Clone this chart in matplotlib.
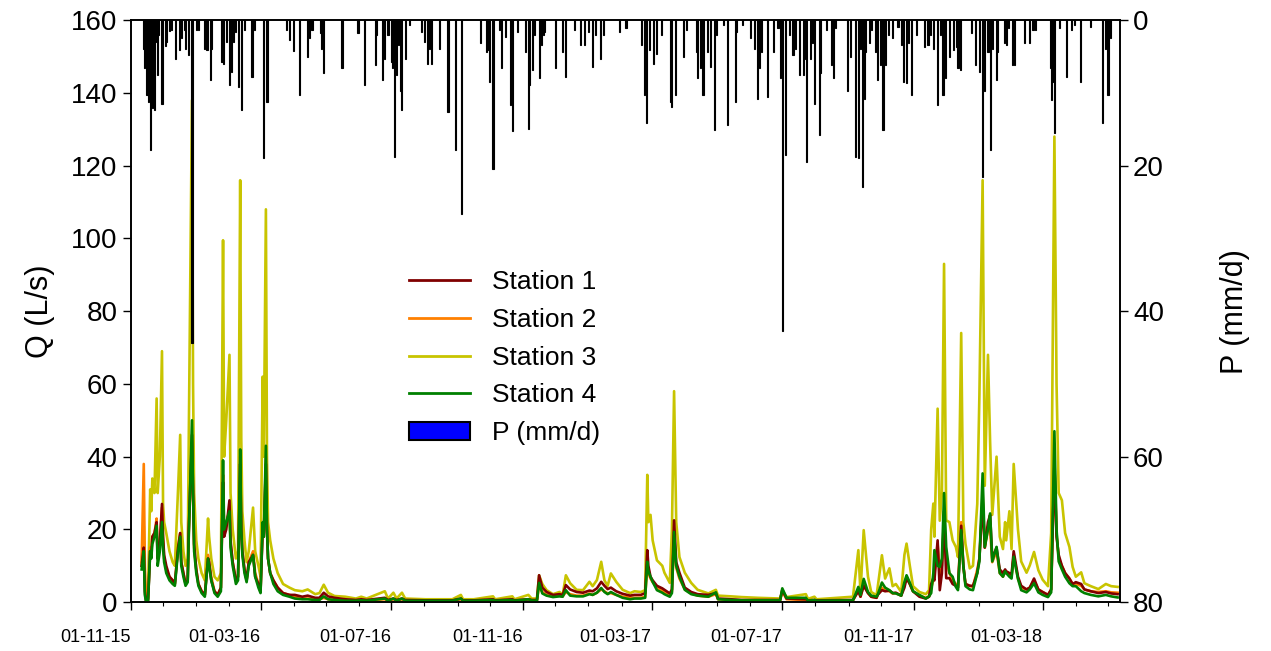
import matplotlib
matplotlib.use('Agg')
import matplotlib.pyplot as plt
import matplotlib.dates as mdates
from matplotlib.lines import Line2D
from matplotlib.patches import Patch
import pandas as pd

plt.rcParams['font.family'] = ['Liberation Sans', 'DejaVu Sans']

start = pd.Timestamp('2015-11-01')

# days after 01-11-15 and discharge (L/s) at each station
day = [10, 12, 13, 14, 16, 18, 19, 20, 22, 24, 25, 27, 29, 30, 31, 33, 36, 39, 41, 44,
       46, 47, 49, 51, 53, 54, 57, 58, 59, 61, 63, 66, 69, 72, 73, 75, 78, 81, 84, 86,
       87, 89, 92, 93, 95, 98, 100, 102, 103, 104, 106, 108, 110, 114, 116, 119, 121, 123, 124, 126,
       127, 128, 130, 133, 137, 142, 148, 153,
       160, 165, 172, 176, 180, 184, 190, 200, 210, 215, 220, 237, 240, 245, 248, 253, 256, 275, 300, 308,
       310,
       320, 338, 340, 356, 358, 371, 374, 379, 381, 384, 388, 394, 400, 403, 406, 410, 416, 422, 428, 431,
       435, 439, 442, 445, 448, 453, 459, 466, 470, 476, 480, 482, 483, 485, 487, 491, 496, 498, 503, 505,
       507, 509, 512, 517, 523, 529, 539, 546, 548, 560, 570, 585, 606, 608, 612, 630, 632, 638, 640, 674,
       679, 681, 684, 688, 691, 696, 697, 701, 704, 708, 711, 714, 719, 722, 724, 727, 730, 736, 742, 745,
       747, 749, 750, 753, 755, 757, 759, 761, 764, 767, 770, 772, 775, 777, 779, 783, 786, 790, 792, 795,
       797, 800, 802, 804, 808, 811, 814, 816, 817, 820, 822, 824, 828, 831, 836, 839, 843, 847, 851, 856,
       859, 862, 864, 866, 869, 872, 876, 879, 882, 887, 890, 896, 903, 910, 915, 921]

q1 = [10, 15, 3, 0.5, 0.5, 14, 13, 18, 19, 22, 12, 16, 27, 18, 13, 10, 7, 6, 5, 15,
      19, 11, 8, 5, 6, 20, 46, 30, 16, 9, 5, 3, 2, 12, 11, 6, 3, 2, 4, 33,
      18, 20, 28, 17, 11, 6, 7, 38, 20, 14, 9, 6, 11, 13, 7, 5, 3, 20, 18, 38,
      20, 12, 8, 6, 4, 2.5, 2, 2,
      1.5, 1.8, 1.2, 1.2, 2.6, 1.6, 1.2, 0.8, 0.6, 0.8, 0.6, 1.2, 0.6, 1.0, 0.6, 1.0, 0.6, 0.5, 0.5, 1.0,
      0.5,
      0.5, 0.8, 0.5, 0.8, 0.5, 0.8, 0.6, 0.6, 7.4, 4.0, 2.8, 2.0, 2.2, 2.0, 4.7, 3.5, 2.8, 2.6, 3.2, 3.0,
      3.8, 5.6, 4.5, 3.6, 4.0, 3.0, 2.3, 1.8, 2.0, 2.0, 2.5, 14.3, 10, 7.0, 6, 4.5, 3.8, 3.4, 2.4, 3.5,
      22.5, 11, 8.1, 4.0, 2.8, 2.2, 2.0, 2.5, 1.0, 0.8, 0.6, 0.6, 0.6, 3.4, 1.0, 0.8, 0.5, 0.6, 0.5, 0.6,
      3.0, 1.5, 4.5, 2.5, 1.5, 1.2, 2.0, 3.3, 3.0, 3.2, 2.5, 2.6, 1.8, 4.0, 6.6, 5.0, 3.0, 1.5, 1.0, 1.5,
      5.0, 6.6, 6.0, 17, 3.3, 8, 25, 6.6, 6.6, 5.0, 4.5, 4.0, 21, 10, 5, 4.5, 4.5, 8, 12, 28,
      15, 22, 24, 12, 15, 9, 8, 9, 8.5, 8, 7.5, 14, 7, 4.5, 3.5, 4, 6.5, 3.5, 2.8, 2.0,
      3.5, 38, 18, 13, 10, 8, 6.5, 5, 5.5, 5, 3.5, 3.0, 2.5, 2.8, 2.4, 2.2]

q2 = [11, 38, 10, 2, 1, 15, 14, 18, 19, 23, 12, 16, 26, 17, 12, 9, 7, 6, 5, 15,
      19, 11, 8, 5, 6, 19, 44, 30, 15, 9, 5, 3, 2, 13, 11, 7, 3, 2, 4, 35,
      19, 21, 26, 16, 11, 6, 7, 40, 20, 14, 9, 6, 11, 14, 8, 5, 3, 21, 18, 40,
      20, 12, 8, 6, 4, 2.5, 2, 1.5,
      1.0, 1.0, 0.8, 0.8, 1.2, 0.8, 0.6, 0.5, 0.4, 0.5, 0.4, 0.8, 0.4, 0.8, 0.4, 0.8, 0.4, 0.4, 0.4, 0.8,
      0.4,
      0.4, 0.6, 0.4, 0.6, 0.4, 0.8, 0.5, 0.5, 4.5, 2.8, 2.0, 1.6, 1.8, 1.6, 2.8, 2.2, 1.8, 1.8, 2.4, 2.0,
      2.6, 3.5, 3.0, 2.4, 2.5, 2.0, 1.5, 1.2, 1.2, 1.2, 1.5, 10, 8, 6.5, 5.5, 4, 3.2, 2.8, 2, 3,
      18, 9.5, 6.5, 3.5, 2.4, 1.8, 1.5, 2.2, 0.8, 0.6, 0.5, 0.5, 0.5, 3.0, 0.8, 0.6, 0.4, 0.5, 0.4, 0.5,
      3.5, 1.5, 5.0, 2.5, 1.5, 1.2, 2.0, 4.0, 3.2, 3.0, 2.4, 2.5, 1.8, 5.0, 7.0, 5.0, 3.0, 1.8, 1.2, 1.6,
      4.0, 6.0, 8.0, 16, 8, 10, 22, 12, 8, 6, 5, 4.0, 22, 10, 5, 4.5, 4.2, 9, 12, 30,
      15, 20, 20, 11, 14, 8, 7, 8.5, 8, 7.5, 7, 13, 6.5, 4, 3.5, 4, 6, 3.5, 2.8, 2.0,
      3.5, 40, 19, 12, 10, 8, 6.5, 5, 5, 4.5, 3.5, 3.0, 2.8, 3.0, 2.7, 2.6]

q3 = [10, 21, 6, 3, 3, 31, 25, 34, 30, 56, 30, 40, 69, 27, 22, 19, 14, 11, 10, 31,
      46, 22, 14, 10, 12, 45, 138, 60, 30, 17, 12, 8, 6, 23, 18, 12, 7, 6, 8, 99.5,
      40, 50, 68, 30, 20, 12, 14, 116, 45, 25, 17, 11, 14, 26, 14, 10, 7, 62, 40, 108,
      40, 22, 17, 12, 8, 5, 4, 3.3,
      3.0, 3.5, 2.2, 2.5, 4.8, 2.6, 1.7, 1.5, 1.0, 1.5, 1.0, 3.0, 1.0, 2.6, 1.0, 2.6, 1.0, 0.8, 0.8, 2.0,
      0.8,
      0.8, 1.6, 0.8, 1.6, 0.8, 2.0, 1.0, 1.0, 7.4, 5.0, 3.3, 2.2, 2.8, 2.0, 7.4, 5.2, 3.4, 3.3, 5.6, 4.4,
      6.1, 11.1, 6.0, 4.5, 7.9, 5.6, 3.4, 2.5, 3.0, 2.8, 3.3, 35, 22, 24, 17, 11.5, 10, 8.1, 5.3, 20,
      58, 22, 12.4, 8.1, 5.3, 3.4, 2.4, 3.4, 1.8, 1.6, 1.4, 1.2, 1.0, 3.1, 1.4, 2.2, 0.9, 1.5, 0.8, 1.5,
      14.3, 2.5, 19.8, 7, 2.8, 1.9, 4.0, 12.9, 6.5, 9.3, 4.4, 5.0, 2.8, 13, 16.1, 10.1, 4.4, 2.8, 2.2, 3.3,
      20, 27.1, 18, 53.2, 22.4, 30, 93, 22.5, 22, 17, 15.2, 12.4, 74, 22, 16, 9.3, 10, 27, 57, 116,
      32, 68, 44, 24, 40, 18, 14.6, 22, 17, 25, 14.6, 38, 20, 11.2, 8.1, 10.1, 13.8, 8.8, 6.2, 4.4,
      19, 128, 60, 30, 28, 19, 15.2, 9.7, 7, 8.2, 5.2, 4.4, 3.6, 5, 4.4, 4.2]

q4 = [9, 14, 2, 0.3, 0.3, 14, 12, 16, 18, 21, 10, 14, 22, 15, 11, 8, 6, 5, 4.5, 14,
      18, 10, 7, 4.5, 5.5, 18, 50, 30, 14, 8, 4.5, 2.5, 1.5, 12, 10, 6, 2.5, 1.5, 3, 39,
      20, 22, 25, 15, 10, 5, 6, 42, 20, 13, 8, 5.5, 10, 13, 7, 4, 2.5, 22, 18, 43,
      20, 12, 8, 5, 3, 2, 1.5, 1.0,
      0.8, 0.8, 0.6, 0.6, 1.6, 0.8, 0.6, 0.4, 0.4, 0.5, 0.4, 1.0, 0.4, 1.0, 0.4, 1.0, 0.4, 0.4, 0.4, 1.0,
      0.4,
      0.4, 0.6, 0.4, 0.6, 0.4, 0.8, 0.5, 0.4, 5.3, 2.4, 1.8, 1.4, 1.6, 1.5, 3.3, 1.8, 1.6, 1.6, 2.2, 2.0,
      2.6, 3.9, 2.8, 2.2, 2.8, 2.0, 1.2, 0.8, 1.0, 1.0, 1.2, 11.1, 8.5, 7.0, 5.6, 3.3, 2.6, 2.2, 1.5, 2.5,
      19.3, 10, 7.0, 3.4, 2.2, 1.8, 1.5, 2.7, 0.8, 0.6, 0.5, 0.5, 0.5, 3.8, 1.2, 1.2, 0.4, 0.6, 0.4, 0.5,
      4.2, 2.0, 6.4, 2.8, 1.8, 1.5, 2.0, 5.4, 4.0, 3.3, 2.5, 2.4, 1.8, 5.5, 7.4, 5.4, 3.0, 2.0, 1.0, 1.6,
      2.5, 8, 14.3, 10, 9.7, 12, 30, 15.2, 8.0, 7.0, 4.2, 3.3, 19.8, 10, 4.4, 3.5, 3.3, 8, 11.2, 35.4,
      15.2, 20, 24.4, 11.2, 15.2, 8, 7, 8.5, 8, 7, 6.5, 12.5, 6.4, 3.3, 2.7, 3.5, 5.2, 2.7, 2.0, 1.4,
      2.7, 47, 20, 11.2, 9, 7, 5.2, 4.4, 4.4, 3, 2.5, 2.0, 1.6, 2.0, 1.6, 1.3]

# daily precipitation (mm/d)
p_day = [12, 13, 15, 16, 17, 18, 19, 20, 21, 22, 23, 25, 26, 29, 32, 33, 36, 38, 42, 45,
         47, 50, 51, 54, 57, 61, 63, 69, 71, 74, 75, 85, 86, 89, 92, 94, 96, 98, 100, 103,
         106, 113, 115, 124, 127, 145, 148, 152, 157,
         165, 167, 169, 177, 178, 180, 197, 212, 218, 228, 229, 235, 237, 240, 243, 244, 246, 248, 250, 252,
         253, 256, 260, 271, 274, 277, 279, 281, 288, 296, 303, 309,
         326, 332, 333, 335, 338, 344, 346, 350, 354, 356, 361, 368, 371, 372, 375, 377, 381, 383, 385, 386,
         396, 403, 406, 414, 420, 423, 427, 431, 434, 438, 441, 456, 462,
         463, 477, 479, 481, 484, 488, 491, 495, 504, 505, 508, 516, 519, 528, 529, 532, 534, 538, 541, 545,
         547, 553, 557, 564, 565, 571, 578, 582, 585, 587, 589, 594, 600, 604, 606, 608, 611, 615,
         618, 620, 624, 628, 630, 631, 634, 636, 638, 643, 644, 649, 654, 656, 658, 669, 672, 676, 679, 681,
         683, 685, 686, 689, 691, 695, 697, 700, 702, 704, 707, 711, 716, 719, 721, 724, 726, 729, 733, 741,
         744, 746, 749, 753, 756, 758, 760, 764, 768, 771, 772, 774, 785, 788, 792, 795, 797, 800, 802, 804,
         808, 809, 815, 817, 819, 823, 825, 834, 839, 842, 844, 858, 859, 861, 862, 867, 873, 878, 881, 886,
         896, 907, 910, 912, 914]

p_mm = [4, 6.6, 10.3, 11.2, 8, 17.9, 6, 12.1, 9, 12.4, 3, 7.6, 2.1, 11.5, 3.5, 3.0, 1.5, 1.3, 5.3, 4.1,
        2.5, 1.3, 3.9, 4.8, 44.4, 1.3, 1.3, 3.9, 4.1, 8.2, 3.9, 5.7, 6.0, 3.0, 8.9, 7.1, 3.0, 1.6, 9.2, 12.4,
        1.3, 7.8, 1.3, 19.0, 11.2, 1.3, 2.7, 4.3, 10.3,
        5.0, 2.5, 1.4, 1.8, 3.9, 7.3, 6.6, 1.8, 8.9, 6.2, 2.1, 8.2, 5.3, 2.1, 5.7, 6.6, 18.8, 7.6, 3.4, 9.8,
        12.4, 5.3, 0.7, 1.6, 3.0, 6.0, 3.9, 6.0, 3.9, 12.6, 17.9, 26.6,
        3.2, 4.4, 4.1, 8.5, 20.4, 1.4, 6.6, 2.3, 11.7, 15.3, 1.6, 4.4, 14.9, 8.9, 6.9, 2.1, 8.0, 3.4, 2.1, 1.6,
        6.6, 4.4, 7.8, 1.4, 3.4, 3.4, 1.6, 6.4, 2.1, 5.3, 2.1, 1.6, 1.1,
        1.1, 3.4, 10.3, 14.2, 4.1, 6.0, 4.6, 2.1, 11.2, 12.0, 10.3, 5.0, 1.4, 4.4, 8.0, 6.6, 10.3, 4.4, 6.4, 15.1,
        2.1, 0.7, 14.4, 11.2, 1.6, 0.7, 2.5, 3.9, 10.8, 6.6, 4.4, 10.5, 4.4, 1.1, 8.0, 42.7, 18.5, 2.1,
        4.8, 3.9, 7.6, 7.6, 5.3, 19.5, 5.3, 3.2, 11.5, 15.8, 7.3, 1.4, 6.2, 8.0, 1.1, 9.8, 5.0, 18.8, 19.0, 3.9,
        22.9, 10.8, 4.4, 3.2, 1.4, 4.4, 8.2, 6.2, 15.1, 6.2, 2.1, 2.5, 0.9, 3.4, 8.5, 8.7, 3.2, 10.3, 2.1, 3.7,
        3.4, 2.1, 3.9, 11.7, 2.1, 10.3, 8.0, 5.0, 4.1, 3.7, 6.6, 6.9, 1.8, 6.2, 7.1, 21.5, 9.8, 4.4, 17.9, 3.9,
        8.2, 4.4, 3.2, 3.4, 1.1, 6.2, 6.2, 3.2, 3.2, 1.4, 1.4, 6.6, 11.0, 8.5, 15.5, 1.1, 7.8, 1.4, 0.7, 8.5,
        0.9, 14.2, 3.9, 10.3, 2.5]

dates = start + pd.to_timedelta(day, unit='D')
p_dates = start + pd.to_timedelta(p_day, unit='D')

fig = plt.figure(figsize=(12.71, 6.51), dpi=100)
ax = fig.add_axes([0.103, 0.075, 0.778, 0.894])

ax.plot(dates, q3, color='#C8C400', lw=1.9, label='Station 3', zorder=2)
ax.plot(dates, q2, color='#FF8000', lw=1.9, label='Station 2', zorder=3)
ax.plot(dates, q1, color='#800000', lw=1.9, label='Station 1', zorder=4)
ax.plot(dates, q4, color='#008000', lw=1.9, label='Station 4', zorder=5)

ax.set_ylim(0, 160)
ax.set_yticks(range(0, 161, 20))
ax.set_xlim(start, start + pd.Timedelta(days=923))
ax.set_ylabel('Q (L/s)', fontsize=22, labelpad=12)

ax.xaxis.set_major_locator(mdates.MonthLocator(bymonth=[3, 7, 11]))
ax.xaxis.set_minor_locator(mdates.MonthLocator())
ax.xaxis.set_major_formatter(mdates.DateFormatter('%d-%m-%y'))
ax.tick_params(axis='x', which='major', labelsize=13, length=6, width=1, pad=13)
ax.tick_params(axis='x', which='minor', length=3, width=0.8)
ax.tick_params(axis='y', labelsize=20, length=6, width=1)
for lab in ax.get_xticklabels():
    lab.set_horizontalalignment('right')

# precipitation hanging from the top on a reversed axis
ax2 = ax.twinx()
ax2.bar(p_dates, p_mm, width=1.0, color='black', edgecolor='black', linewidth=0.8, align='center')
ax2.set_ylim(80, 0)
ax2.set_yticks(range(0, 81, 20))
ax2.tick_params(axis='y', labelsize=20, length=6, width=1)
ax2.set_ylabel('P (mm/d)', fontsize=22, labelpad=40)

for a in (ax, ax2):
    for s in a.spines.values():
        s.set_linewidth(1.2)

handles = [Line2D([], [], color='#800000', lw=2),
           Line2D([], [], color='#FF8000', lw=2),
           Line2D([], [], color='#C8C400', lw=2),
           Line2D([], [], color='#008000', lw=2),
           Patch(facecolor='#0000FF', edgecolor='black', linewidth=1.5)]
labels = ['Station 1', 'Station 2', 'Station 3', 'Station 4', 'P (mm/d)']
ax2.legend(handles, labels, loc='center', bbox_to_anchor=(0.378, 0.42), frameon=False,
           fontsize=19, handlelength=2.3, labelspacing=0.52, handletextpad=0.85)

fig.savefig('out.png', dpi=100)
